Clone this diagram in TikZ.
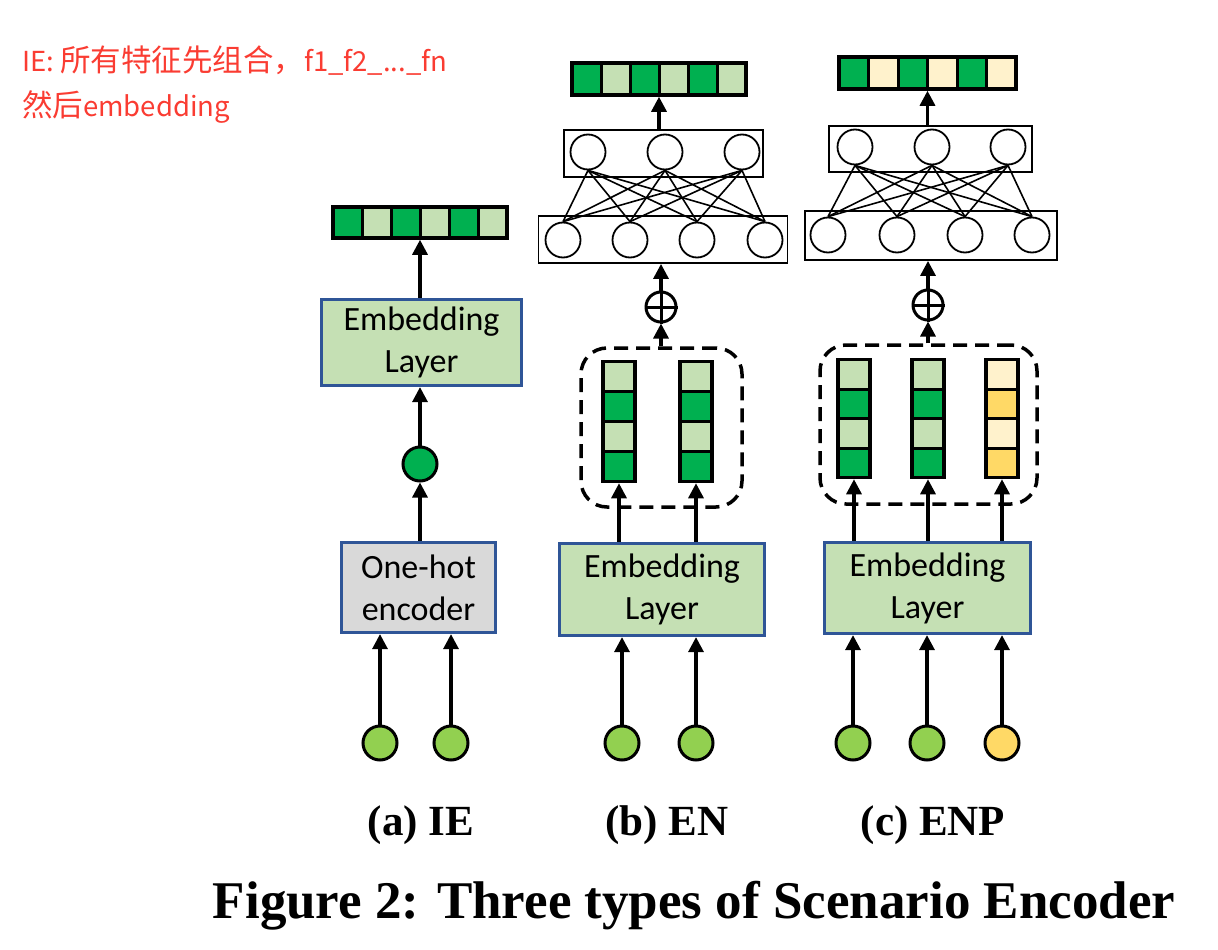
\documentclass[tikz,border=0pt]{standalone}
\usepackage{fontspec}
\setmainfont{Liberation Serif}
\newfontfamily\carl{Carlito}
\newfontfamily\cjk{Noto Sans CJK SC}
\usetikzlibrary{arrows.meta}
\definecolor{dg}{HTML}{00B050}
\definecolor{lg}{HTML}{C5E0B4}
\definecolor{ig}{HTML}{92D050}
\definecolor{boxblue}{HTML}{2F5597}
\definecolor{grayfill}{HTML}{D9D9D9}
\definecolor{gold}{HTML}{FFD966}
\definecolor{cream}{HTML}{FFF2CC}
\definecolor{redtxt}{RGB}{250,60,50}
\newcommand\bigcjk[1]{{\fontsize{30.5}{30}\selectfont #1}}
\newcommand\hvector[7]{%
  \foreach \i in {0,...,5}{\ifodd\i\def\cc{#7}\else\def\cc{#6}\fi
    \fill[fill=\cc] ({#2-3*#4+\i*#4},{#3-#5/2}) rectangle ++(#4,#5);}
  \foreach \i in {1,...,5}{\draw[line width=3pt] ({#2-3*#4+\i*#4},{#3-#5/2}) -- ++(0,#5);}
  \node[vec, minimum width={6*#4}, minimum height={#5}] (#1) at (#2,#3) {};
}
\newcommand\vvector[7]{%
  \foreach \i in {0,...,3}{\ifodd\i\def\cc{#7}\else\def\cc{#6}\fi
    \fill[fill=\cc] ({#2-#4/2},{#3-2*#5+\i*#5}) rectangle ++(#4,#5);}
  \foreach \i in {1,2,3}{\draw[line width=3pt] ({#2-#4/2},{#3-2*#5+\i*#5}) -- ++(#4,0);}
  \node[vec, minimum width={#4}, minimum height={4*#5}] (#1) at (#2,#3) {};
}
\begin{document}
\begin{tikzpicture}[x=1pt,y=-1pt,
  box/.style={draw=boxblue, line width=3.2pt, font=\carl\fontsize{34}{42}\selectfont, align=center, inner sep=0pt},
  inp/.style={circle, draw, line width=3pt, minimum size=34pt, inner sep=0pt},
  nn/.style={circle, draw, line width=1.8pt, minimum size=35pt, inner sep=0pt},
  layer/.style={draw, line width=1.8pt, inner sep=0pt},
  arr/.style={line width=3.2pt, -{Triangle[width=15pt,length=15pt]}},
  link/.style={line width=1.6pt},
  vec/.style={draw, line width=3.5pt, inner sep=0pt},
  grp/.style={draw, dash pattern=on 14pt off 8pt, line width=3.5pt, rounded corners=26pt, inner sep=0pt},
  plus/.style={circle, draw, line width=3pt, minimum size=30pt, inner sep=0pt},
  lbl/.style={font=\bfseries\fontsize{43}{50}\selectfont},
  note/.style={anchor=base west, text=redtxt, font=\cjk\fontsize{27.5}{30}\selectfont, inner sep=0pt}]
\useasboundingbox (0,0) rectangle (1218,950);

% red note
\node[note] (n1) at (22,72) {IE:\hspace{6pt}\bigcjk{所有特征先组合，}f1\_f2\_...\_fn};
\node[note] (n2) at (22,116) {\bigcjk{然后}embedding};

% ---------- (a) IE ----------
\hvector{va}{420}{222.5}{29}{31}{dg}{lg}
\node[box, fill=lg, minimum width=200, minimum height=86] (ea) at (421.5,342.5) {Embedding\\Layer};
\node[inp, fill=dg] (ha) at (420,464) {};
\node[box, fill=grayfill, minimum width=154, minimum height=90] (oa) at (418.5,587.5) {One-hot\\encoder};
\node[inp, fill=ig] (a1) at (380,743) {};
\node[inp, fill=ig] (a2) at (451,743) {};
\draw[arr] (a1) -- (a1 |- oa.south);
\draw[arr] (a2) -- (a2 |- oa.south);
\draw[arr] (ha |- oa.north) -- (ha.south);
\draw[arr] (ha.north) -- (ha |- ea.south);
\draw[arr] (va.south |- ea.north) -- (va.south);

% ---------- (b) EN ----------
\hvector{vb}{659}{79}{29}{32}{dg}{lg}
\node[layer, minimum width=199, minimum height=47] (ub) at (663.5,153.5) {};
\node[nn] (bu1) at (588,152) {};
\node[nn] (bu2) at (665,152) {};
\node[nn] (bu3) at (742,152) {};
\node[layer, minimum width=249, minimum height=47] (lb) at (663,239.5) {};
\node[nn] (bl1) at (563,240) {};
\node[nn] (bl2) at (630,240) {};
\node[nn] (bl3) at (697,240) {};
\node[nn] (bl4) at (765,240) {};
\foreach \u in {1,2,3}{\foreach \l in {1,...,4}{\draw[link] (bu\u.south) -- (bl\l.north);}}
\node[plus] (pb) at (661,307) {};
\draw[line width=3pt] (pb.north) -- (pb.south) (pb.west) -- (pb.east);
\vvector{cb1}{619}{421.5}{32}{30}{lg}{dg}
\vvector{cb2}{696}{421.5}{32}{30}{lg}{dg}
\node[grp, minimum width=161, minimum height=159] (gb) at (661.5,427.5) {};
\node[box, fill=lg, minimum width=205, minimum height=92] (eb) at (662,589.5) {Embedding\\Layer};
\node[inp, fill=ig] (b1) at (622,743) {};
\node[inp, fill=ig] (b2) at (696,743) {};
\draw[arr] (b1) -- (b1 |- eb.south);
\draw[arr] (b2) -- (b2 |- eb.south);
\draw[arr] (cb1.south |- eb.north) -- (cb1.south);
\draw[arr] (cb2.south |- eb.north) -- (cb2.south);
\draw[arr] (pb |- gb.north) -- (pb.south);
\draw[arr] (pb.north) -- (pb |- lb.south);
\draw[arr] (vb.south |- ub.north) -- (vb.south);

% ---------- (c) ENP ----------
\hvector{vc}{927.5}{73}{29.5}{32}{dg}{cream}
\node[layer, minimum width=203, minimum height=46] (uc) at (930.5,149) {};
\node[nn] (cu1) at (855,147) {};
\node[nn] (cu2) at (932,147) {};
\node[nn] (cu3) at (1008,147) {};
\node[layer, minimum width=252, minimum height=49] (lc) at (931,235.5) {};
\node[nn] (cl1) at (828,235) {};
\node[nn] (cl2) at (897,235) {};
\node[nn] (cl3) at (965,235) {};
\node[nn] (cl4) at (1032,235) {};
\foreach \u in {1,2,3}{\foreach \l in {1,...,4}{\draw[link] (cu\u.south) -- (cl\l.north);}}
\node[plus] (pc) at (928,305) {};
\draw[line width=3pt] (pc.north) -- (pc.south) (pc.west) -- (pc.east);
\vvector{cc1}{854}{418.5}{32}{29.5}{lg}{dg}
\vvector{cc2}{928}{418.5}{32}{29.5}{lg}{dg}
\vvector{cc3}{1002}{418.5}{32}{29.5}{cream}{gold}
\node[grp, minimum width=217, minimum height=159] (gc) at (928.5,424.5) {};
\node[box, fill=lg, minimum width=206, minimum height=91] (ec) at (927.5,588) {Embedding\\Layer};
\node[inp, fill=ig] (c1) at (853,743) {};
\node[inp, fill=ig] (c2) at (927,743) {};
\node[inp, fill=gold] (c3) at (1002,743) {};
\draw[arr] (c1) -- (c1 |- ec.south);
\draw[arr] (c2) -- (c2 |- ec.south);
\draw[arr] (c3) -- (c3 |- ec.south);
\draw[arr] (cc1.south |- ec.north) -- (cc1.south);
\draw[arr] (cc2.south |- ec.north) -- (cc2.south);
\draw[arr] (cc3.south |- ec.north) -- (cc3.south);
\draw[arr] (pc |- gc.north) -- (pc.south);
\draw[arr] (pc.north) -- (pc |- lc.south);
\draw[arr] (vc.south |- uc.north) -- (vc.south);

% ---------- labels ----------
\node[lbl] (la) at (421,825) {(a) IE};
\node[lbl] (lbb) at (667,825) {(b) EN};
\node[lbl] (lcc) at (933,825) {(c) ENP};
\node[font=\bfseries\fontsize{53}{60}\selectfont] (cap) at (694,906) {Figure 2: Three types of Scenario Encoder};
\end{tikzpicture}
\end{document}
